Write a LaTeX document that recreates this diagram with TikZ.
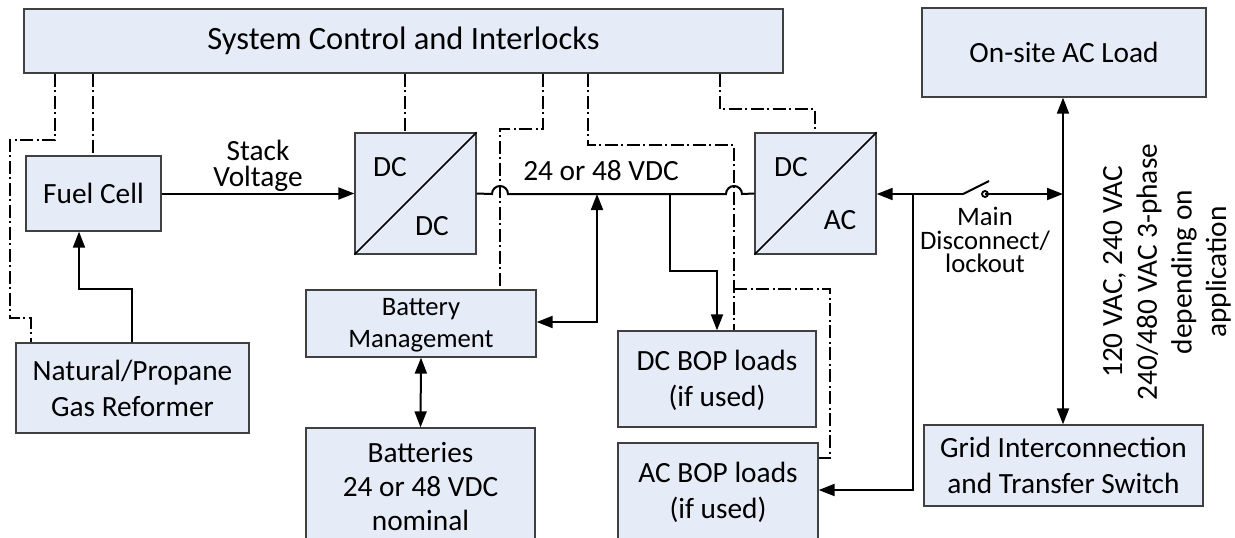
\documentclass[tikz,border=0pt]{standalone}
\usepackage{fontspec}
\setmainfont{Carlito}
\usetikzlibrary{arrows.meta,calc}
\definecolor{boxfill}{HTML}{E6ECF7}
\definecolor{boxline}{HTML}{404040}
\tikzset{
  box/.style={draw=boxline,fill=boxfill,line width=1pt,inner sep=0pt,align=center,font=\fontsize{22}{27}\selectfont},
  pow/.style={draw=black,line width=1.5pt},
  arr/.style={pow,-{Triangle[length=12pt,width=9pt]}},
  darr/.style={pow,{Triangle[length=12pt,width=9pt]}-{Triangle[length=12pt,width=9pt]}},
  ctl/.style={draw=black,line width=1.1pt,dash pattern=on 10pt off 2.6pt on 1.3pt off 2.6pt},
  lbl/.style={inner sep=0pt,align=center,font=\fontsize{22}{19.5}\selectfont},
}
\newcommand{\bxn}[6]{\node[box,minimum width={(#4-#2)*0.75pt},minimum height={(#5-#3)*0.75pt}] (#1) at ({(#2+#4)/2},{(#3+#5)/2}) {#6};}
\begin{document}
\begin{tikzpicture}[x=0.75pt,y=-0.75pt]
\useasboundingbox (0,0) rectangle (1235,537);
\clip (0,0) rectangle (1235,537);
% x / y guides
\foreach \v in {10,31,55,79,93,132,405,420,500,543,588,597,670,717,720,734,815,830,913,1063}{\coordinate (x\v) at (\v,0);}
\foreach \v in {109,129,140,145,194,271,289,318,322,458,490}{\coordinate (y\v) at (0,\v);}
% boxes
\node[box,minimum width={759*0.75pt},minimum height={64*0.75pt},font=\fontsize{24.4}{27}\selectfont] (sys) at (403.5,41) {\raisebox{-1pt}{System Control and Interlocks}};
\bxn{site}{922}{8}{1206}{97}{On-site AC Load}
\bxn{fc}{26}{156}{161}{231}{Fuel Cell}
\bxn{dcdc}{355}{133}{476}{254}{}
\bxn{dcac}{755}{133}{876}{254}{}
\bxn{ref}{16}{343}{249}{433}{Natural/Propane\\Gas Reformer}
\bxn{bm}{306}{290}{536}{357}{}
\node[lbl,font=\fontsize{20}{24}\selectfont] (bmt) at (421,325.5) {Battery\\Management};
\node[box,minimum width={229*0.75pt},minimum height={118*0.75pt},font=\fontsize{22}{25.5}\selectfont] (bat) at (420.5,487) {Batteries\\24 or 48 VDC\\nominal};
\bxn{dcb}{618}{331}{816}{427}{}
\node[lbl,font=\fontsize{22}{27}\selectfont] (dcbt) at (717,380) {DC BOP loads\\(if used)};
\bxn{acb}{618}{443}{818}{541}{AC BOP loads\\(if used)}
\bxn{grid}{924}{425}{1203}{506}{Grid Interconnection\\and Transfer Switch}
\draw[pow,line width=1.1pt] (dcdc.south west) -- (dcdc.north east);
\draw[pow,line width=1.1pt] (dcac.south west) -- (dcac.north east);
\node[lbl] (dc1) at (390,167) {DC};
\node[lbl] (dc2) at (432,226) {DC};
\node[lbl] (dc3) at (791,167) {DC};
\node[lbl] (ac1) at (840,220) {AC};
% switch
\coordinate (swa) at (963,194);
\coordinate (swb) at (989,181);
\coordinate (swc) at (985,194);
% labels
\node[lbl] (stack) at (258,166) {Stack\\Voltage};
\node[lbl] (bus) at (601,171) {24 or 48 VDC};
\node[lbl,font=\fontsize{20}{17.5}\selectfont] (main) at (985,240) {Main\\Disconnect/\\lockout};
\node[lbl,rotate=90,font=\fontsize{22}{26}\selectfont] (volt) at (1167,272) {120 VAC, 240 VAC\\240/480 VAC 3-phase\\depending on\\application};
% power
\draw[arr] (fc.east) -- (fc.east -| dcdc.west);
\draw[arr] (ref.north -| x132) -- (x132 |- y289) -- (x79 |- y289) -- (fc.south -| x79);
\draw[pow] (dcdc.east) -- ($(x500 |- y194)+(-8,0)$) arc[start angle=180,end angle=360,radius=8] -- ($(x734 |- y194)+(-8,0)$) arc[start angle=180,end angle=360,radius=8] -- (dcac.west);
\draw[darr] (bm.east |- y322) -- (x597 |- y322) -- (x597 |- y194);
\draw[arr] (x670 |- y194) -- (x670 |- y271) -- (x717 |- y271) -- (dcb.north -| x717);
\draw[darr] (bm.south) -- (bat.north);
\draw[arr] (x913 |- y194) -- (x913 |- y490) -- (acb.east |- y490);
\draw[arr] (swa) -- (dcac.east |- y194);
\draw[pow] (swa) -- (swb);
\draw[pow,line width=1.4pt] (swc) circle[radius=3];
\draw[arr] (swc) -- (x1063 |- y194);
\draw[darr] (site.south -| x1063) -- (grid.north -| x1063);
% control
\draw[ctl] (sys.south -| x55) -- (x55 |- y140) -- (x10 |- y140) -- (x10 |- y318) -- (x31 |- y318) -- (ref.north -| x31);
\draw[ctl] (sys.south -| x93) -- (fc.north -| x93);
\draw[ctl] (sys.south -| x405) -- (dcdc.north -| x405);
\draw[ctl] (sys.south -| x543) -- (x543 |- y129) -- (x500 |- y129) -- (bm.north -| x500);
\draw[ctl] (sys.south -| x588) -- (x588 |- y145) -- (x734 |- y145) -- (dcb.north -| x734);
\draw[ctl] (x734 |- y289) -- (x830 |- y289) -- (x830 |- y458) -- (acb.east |- y458);
\draw[ctl] (sys.south -| x720) -- (x720 |- y109) -- (x815 |- y109) -- (dcac.north -| x815);
\end{tikzpicture}
\end{document}
